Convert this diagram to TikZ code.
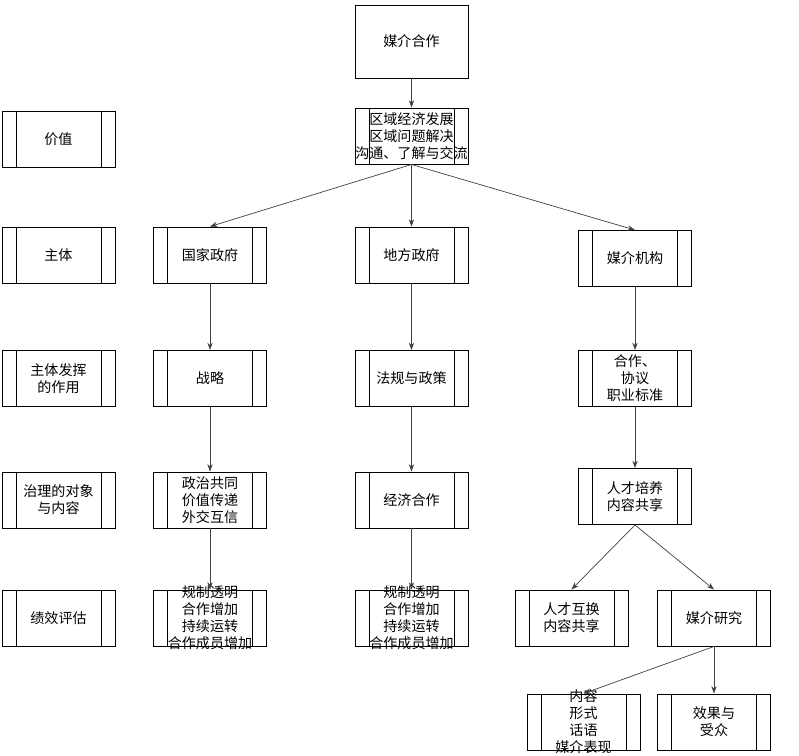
\documentclass[tikz,border=0pt]{standalone}
\usepackage{fontspec}
\setmainfont{Noto Sans CJK SC}
\usetikzlibrary{arrows.meta,positioning}
\tikzset{
  box/.style={draw, thick, minimum width=3.39cm, minimum height=1.68cm, inner sep=0pt},
  procbox/.style={box, path picture={
      \draw[thick] ([xshift=0.42cm]path picture bounding box.north west) -- ([xshift=0.42cm]path picture bounding box.south west);
      \draw[thick] ([xshift=-0.42cm]path picture bounding box.north east) -- ([xshift=-0.42cm]path picture bounding box.south east);}},
  txt/.style={label={[align=center, font=\fontsize{12}{14.5}\selectfont]center:{#1}}},
  link/.style={-{Stealth[length=2.2mm,width=1.6mm]}, semithick, black!75}
}
\begin{document}
\begin{tikzpicture}[x=0.03cm, y=-0.03cm]
  \useasboundingbox (0,0) rectangle (799,756);
  % top
  \node[box, minimum height=2.19cm, txt={媒介合作}] (coop) at (411.5,41.5) {};
  \node[procbox, txt={区域经济发展\\区域问题解决\\沟通、了解与交流}] (value) at (411.5,136) {};
  % left labels
  \node[procbox, txt={价值}] (lvalue) at (58.5,139.5) {};
  \node[procbox, txt={主体}] (lsubj) at (58.5,255) {};
  \node[procbox, txt={主体发挥\\的作用}] (lrole) at (58.5,378.5) {};
  \node[procbox, txt={治理的对象\\与内容}] (lobj) at (58.5,500) {};
  \node[procbox, txt={绩效评估}] (leval) at (58.5,618) {};
  % column 1
  \node[procbox, txt={国家政府}] (nat) at (210,255) {};
  \node[procbox, txt={战略}] (strat) at (210,378.5) {};
  \node[procbox, txt={政治共同\\价值传递\\外交互信}] (pol) at (210,500) {};
  \node[procbox, txt={规制透明\\合作增加\\持续运转\\合作成员增加}] (eval1) at (210,618) {};
  % column 2
  \node[procbox, txt={地方政府}] (loc) at (411.5,255) {};
  \node[procbox, txt={法规与政策}] (law) at (411.5,378.5) {};
  \node[procbox, txt={经济合作}] (econ) at (411.5,500) {};
  \node[procbox, txt={规制透明\\合作增加\\持续运转\\合作成员增加}] (eval2) at (411.5,618) {};
  % column 3
  \node[procbox, txt={媒介机构}] (media) at (635,258.5) {};
  \node[procbox, txt={合作、\\协议\\职业标准}] (agree) at (635,378.5) {};
  \node[procbox, txt={人才培养\\内容共享}] (talent) at (635,496.5) {};
  \node[procbox, txt={人才互换\\内容共享}] (swap) at (571.5,618) {};
  \node[procbox, txt={媒介研究}] (research) at (714,618) {};
  \node[procbox, txt={内容\\形式\\话语\\媒介表现}] (form) at (583.5,722) {};
  \node[procbox, txt={效果与\\受众}] (effect) at (714,722) {};
  % connectors
  \draw[link] (coop) -- (value);
  \draw[link] (value.south) -- (nat.north);
  \draw[link] (value.south) -- (loc.north);
  \draw[link] (value.south) -- (media.north);
  \draw[link] (nat) -- (strat);
  \draw[link] (strat) -- (pol);
  \draw[link] (pol) -- (eval1);
  \draw[link] (loc) -- (law);
  \draw[link] (law) -- (econ);
  \draw[link] (econ) -- (eval2);
  \draw[link] (media) -- (agree);
  \draw[link] (agree) -- (talent);
  \draw[link] (talent.south) -- (swap.north);
  \draw[link] (talent.south) -- (research.north);
  \draw[link] (research.south) -- (form.north);
  \draw[link] (research.south) -- (effect.north);
\end{tikzpicture}
\end{document}
